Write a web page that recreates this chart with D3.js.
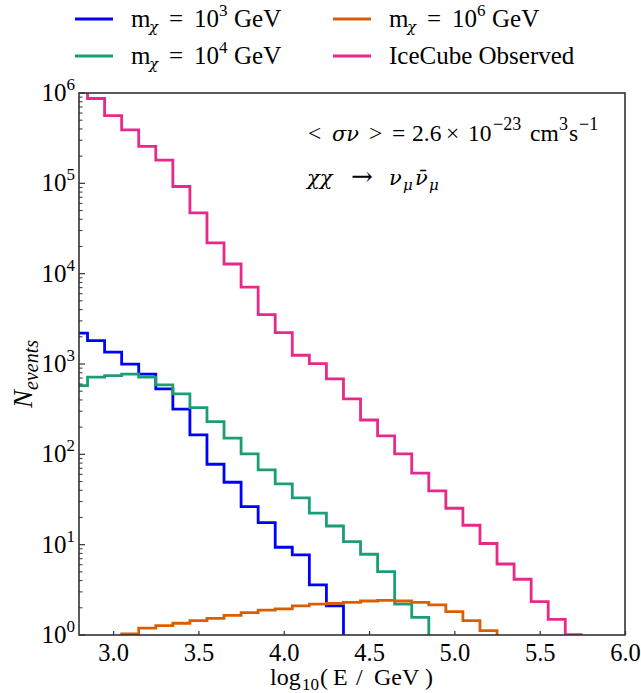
<!DOCTYPE html>
<html>
<head>
<meta charset="utf-8">
<script src="https://cdn.jsdelivr.net/npm/d3@7"></script>
<style>
  html, body { margin: 0; padding: 0; background: #fff; }
  svg text { font-family: "Liberation Serif", "DejaVu Serif", serif; fill: #000; }
  .greek { font-family: "DejaVu Serif", serif; font-style: italic; }
</style>
</head>
<body>
<svg id="chart" width="641" height="693"></svg>
<script>
// ---- data ----
const binCenters = [2.8, 2.9, 3.0, 3.1, 3.2, 3.3, 3.4, 3.5, 3.6, 3.7,
                    3.8, 3.9, 4.0, 4.1, 4.2, 4.3, 4.4, 4.5, 4.6, 4.7,
                    4.8, 4.9, 5.0, 5.1, 5.2, 5.3, 5.4, 5.5, 5.6, 5.7];
const binWidth = 0.1;

const blueValues = [2193, 1816, 1351, 995, 771, 530, 316, 164, 77.7, 49.1,
                    26.4, 17.5, 9.36, 7.69, 3.58, 2.10, 0.3, null, null, null,
                    null, null, null, null, null, null, null, null, null, null];
const greenValues = [577, 714, 744, 771, 714, 587, 467, 329, 230, 151,
                     101, 67.2, 47.0, 32.9, 22.3, 16.1, 10.8, 7.83, 5.02, 2.20,
                     1.57, 0.3, null, null, null, null, null, null, null, null];
const orangeValues = [null, null, 0.8, 1.03, 1.19, 1.27, 1.35, 1.44, 1.53, 1.65,
                      1.77, 1.89, 1.95, 2.10, 2.20, 2.24, 2.30, 2.38, 2.42, 2.38,
                      2.30, 2.15, 1.81, 1.44, 1.12, 0.3, null, null, null, null];
const pinkValues = [1.1e6, 8.69e5, 5.63e5, 3.91e5, 2.56e5, 1.81e5, 9.22e4, 4.71e4, 2.19e4, 1.28e4,
                    7080, 3520, 2230, 1250, 1010, 684, 411, 240, 160, 101,
                    61.8, 39.3, 25.3, 16.4, 10.3, 6.11, 4.14, 2.34, 1.49, 1.01];

const seriesColors = ["#0000ff", "#1b9e77", "#d95f02", "#e7298a"];

const xTicks = [3.0, 3.5, 4.0, 4.5, 5.0, 5.5, 6.0];
const yTickExps = [0, 1, 2, 3, 4, 5, 6];
const xDomain = [2.8, 6.0];
const yDomain = [1, 1e6];

// ---- layout ----
const svg = d3.select("#chart");
const L = 79, R = 625, T = 93, B = 635;
const x = d3.scaleLinear().domain(xDomain).range([L, R]);
const y = d3.scaleLog().domain(yDomain).range([B, T]);

svg.append("rect").attr("width", 641).attr("height", 693).attr("fill", "#fff");
svg.append("clipPath").attr("id", "plotclip")
  .append("rect").attr("x", L).attr("y", T).attr("width", R - L).attr("height", B - T);

// ---- step lines ----
function stepPoints(vals) {
  const pts = [];
  let last = null;
  vals.forEach((v, i) => {
    if (v == null) return;
    pts.push([binCenters[i] - binWidth / 2, v]);
    last = i;
  });
  if (last != null) pts.push([binCenters[last] + binWidth / 2, vals[last]]);
  return pts;
}
const line = d3.line().x(d => x(d[0])).y(d => y(d[1])).curve(d3.curveStepAfter);

const allSeries = [blueValues, greenValues, orangeValues, pinkValues];
const g = svg.append("g").attr("clip-path", "url(#plotclip)");
allSeries.forEach((vals, k) => {
  g.append("path")
    .attr("d", line(stepPoints(vals)))
    .attr("fill", "none")
    .attr("stroke", seriesColors[k])
    .attr("stroke-width", 2.8)
    .attr("stroke-linejoin", "miter");
});

// ---- axes ----
const axisColor = "#333";
const xAxis = d3.axisBottom(x).tickValues(xTicks).tickFormat(d3.format(".1f"))
  .tickSize(-4).tickPadding(8);
const gx = svg.append("g").attr("transform", `translate(0,${B})`).call(xAxis);
gx.select(".domain").remove();
gx.selectAll(".tick line").attr("stroke", axisColor).attr("stroke-width", 1.2);
gx.selectAll(".tick text").attr("font-size", 24.5).attr("font-family", "Liberation Serif")
  .attr("fill", "#000").attr("dy", "0.72em");

const gy = svg.append("g").attr("transform", `translate(${L},0)`);
yTickExps.forEach(e => {
  const yy = y(Math.pow(10, e));
  gy.append("line").attr("x1", 0).attr("x2", 6).attr("y1", yy).attr("y2", yy)
    .attr("stroke", axisColor).attr("stroke-width", 1.2);
  const t = gy.append("text").attr("x", -4).attr("y", yy + 8).attr("text-anchor", "end")
    .attr("font-size", 25);
  t.append("tspan").text("10");
  t.append("tspan").attr("font-size", 17).attr("dy", -11).text(String(e));
});
for (let e = 0; e < 6; e++) {
  for (let m = 2; m <= 9; m++) {
    const yy = y(m * Math.pow(10, e));
    gy.append("line").attr("x1", 0).attr("x2", 3.5).attr("y1", yy).attr("y2", yy)
      .attr("stroke", axisColor).attr("stroke-width", 1);
  }
}

svg.append("rect").attr("x", L).attr("y", T).attr("width", R - L).attr("height", B - T)
  .attr("fill", "none").attr("stroke", axisColor).attr("stroke-width", 1.6);

// ---- axis labels ----
const xl = svg.append("text").attr("y", 685).attr("font-size", 24);
xl.append("tspan").attr("x", 270).text("log");
xl.append("tspan").attr("x", 302).attr("font-size", 17).attr("dy", 5).text("10");
xl.append("tspan").attr("x", 320).attr("dy", -5).text("(");
xl.append("tspan").attr("x", 333).text("E");
xl.append("tspan").attr("x", 356).text("/");
xl.append("tspan").attr("x", 374).text("GeV");
xl.append("tspan").attr("x", 425).text(")");

const yl = svg.append("text").attr("transform", `translate(32,408) rotate(-90)`)
  .attr("text-anchor", "start").attr("font-size", 27).attr("font-style", "italic");
yl.append("tspan").text("N");
yl.append("tspan").attr("font-size", 20).attr("dy", 6).text("events");

// ---- annotations ----
const a1 = svg.append("text").attr("y", 141).attr("font-size", 23.5);
a1.append("tspan").attr("x", 308).text("<");
a1.append("tspan").attr("x", 332).attr("class", "greek").attr("font-size", 21).text("σν");
a1.append("tspan").attr("x", 369).text(">");
a1.append("tspan").attr("x", 392).text("=");
a1.append("tspan").attr("x", 412).text("2.6");
a1.append("tspan").attr("x", 446).text("×");
a1.append("tspan").attr("x", 468).text("10");
a1.append("tspan").attr("x", 493).attr("font-size", 18).attr("dy", -11).text("−23");
a1.append("tspan").attr("x", 530).attr("dy", 11).text("cm");
a1.append("tspan").attr("x", 559).attr("font-size", 18).attr("dy", -11).text("3");
a1.append("tspan").attr("x", 569).attr("dy", 11).text("s");
a1.append("tspan").attr("x", 579).attr("font-size", 18).attr("dy", -11).text("−1");

const a2 = svg.append("text").attr("y", 185).attr("font-size", 23.5);
a2.append("tspan").attr("x", 307).attr("class", "greek").attr("font-size", 21).text("χχ");
a2.append("tspan").attr("x", 351).attr("font-family", "DejaVu Serif").attr("font-size", 26).text("→");
a2.append("tspan").attr("x", 389).attr("class", "greek").attr("font-size", 21).text("ν");
a2.append("tspan").attr("x", 403).attr("class", "greek").attr("font-size", 15).attr("dy", 5).text("μ");
a2.append("tspan").attr("x", 415).attr("class", "greek").attr("font-size", 21).attr("dy", -5).text("ν\u0304");
a2.append("tspan").attr("x", 429).attr("class", "greek").attr("font-size", 15).attr("dy", 5).text("μ");

// ---- legend ----
const legendItems = [
  { k: 0, col: 0, row: 0, label: ["m", "χ", "=", "10", "3", "GeV"] },
  { k: 1, col: 0, row: 1, label: ["m", "χ", "=", "10", "4", "GeV"] },
  { k: 2, col: 1, row: 0, label: ["m", "χ", "=", "10", "6", "GeV"] },
  { k: 3, col: 1, row: 1, label: ["IceCube Observed"] }
];
const colX = [75, 333], rowY = [19, 56];
legendItems.forEach(it => {
  const lx = colX[it.col], ly = rowY[it.row];
  svg.append("line").attr("x1", lx).attr("x2", lx + 38).attr("y1", ly).attr("y2", ly)
    .attr("stroke", seriesColors[it.k]).attr("stroke-width", 3);
  const tx = lx + 56;
  const t = svg.append("text").attr("y", ly + 8).attr("font-size", 25);
  if (it.label.length === 1) {
    t.attr("x", tx).text(it.label[0]);
  } else {
    t.append("tspan").attr("x", tx).text(it.label[0]);
    t.append("tspan").attr("x", tx + 18).attr("class", "greek").attr("font-size", 15).attr("dy", 5).text(it.label[1]);
    t.append("tspan").attr("x", tx + 38).attr("dy", -5).text(it.label[2]);
    t.append("tspan").attr("x", tx + 63).text(it.label[3]);
    t.append("tspan").attr("x", tx + 88).attr("font-size", 17).attr("dy", -11).text(it.label[4]);
    t.append("tspan").attr("x", tx + 103).attr("dy", 11).text(it.label[5]);
  }
});
</script>
</body>
</html>
